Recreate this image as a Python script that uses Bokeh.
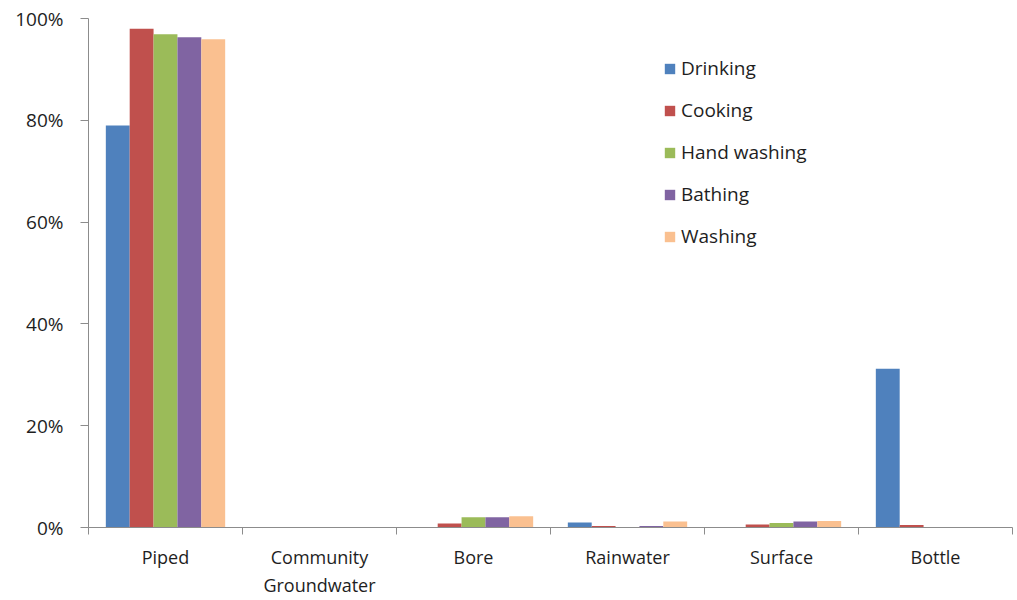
from bokeh.plotting import figure
from bokeh.models import (ColumnDataSource, Range1d, LinearAxis, FixedTicker,
                          NumeralTickFormatter, Legend, LegendItem)
from bokeh.transform import dodge
from bokeh.embed import file_html
from bokeh.resources import INLINE

# Water source by household use (share of households)
sources = ["Piped", "Community Groundwater", "Bore", "Rainwater", "Surface", "Bottle"]
source_labels = ["Piped", "Community\nGroundwater", "Bore", "Rainwater", "Surface", "Bottle"]

drinking = [0.790, 0.0, 0.001, 0.010, 0.001, 0.312]
cooking = [0.980, 0.0, 0.008, 0.003, 0.006, 0.005]
hand_washing = [0.969, 0.0, 0.020, 0.001, 0.009, 0.0]
bathing = [0.963, 0.0, 0.020, 0.003, 0.012, 0.0]
washing = [0.959, 0.0, 0.022, 0.012, 0.013, 0.0]

series_names = ["Drinking", "Cooking", "Hand washing", "Bathing", "Washing"]
series_values = [drinking, cooking, hand_washing, bathing, washing]
colors = ["#4F81BD", "#C0504D", "#9BBB59", "#8064A2", "#FAC090"]

FONT = "Open Sans"
TEXT_COLOR = "#1e1e1e"
AXIS_GRAY = "#8c8c8c"

pos = [i + 0.5 for i in range(len(sources))]
data = {"x": pos}
for name, vals in zip(series_names, series_values):
    data[name] = vals
src = ColumnDataSource(data)

p = figure(width=1017, height=600, output_backend="svg", toolbar_location=None,
           x_range=Range1d(0, len(sources)), y_range=Range1d(0, 1),
           x_axis_type=None, y_axis_type=None,
           min_border_left=88, min_border_right=5, min_border_top=18,
           min_border_bottom=72)
p.outline_line_color = None
p.xgrid.visible = False
p.ygrid.visible = False

bar_w = 0.155
offsets = [-2 * bar_w, -bar_w, 0.0, bar_w, 2 * bar_w]
renderers = []
for name, col, off in zip(series_names, colors, offsets):
    r = p.vbar(x=dodge("x", off), top=name, width=bar_w, source=src,
               fill_color=col, line_color=None)
    renderers.append(r)

# y axis
yax = LinearAxis(ticker=FixedTicker(ticks=[0, 0.2, 0.4, 0.6, 0.8, 1.0]),
                 formatter=NumeralTickFormatter(format="0%"))
yax.axis_line_color = AXIS_GRAY
yax.major_tick_line_color = AXIS_GRAY
yax.major_tick_in = 0
yax.major_tick_out = 8
yax.minor_tick_line_color = None
yax.major_label_standoff = 17
yax.major_label_text_font = FONT
yax.major_label_text_font_size = "19px"
yax.major_label_text_color = TEXT_COLOR
p.add_layout(yax, "left")

# x axis: labels centred on categories, tick marks on category boundaries
xax = LinearAxis(ticker=FixedTicker(ticks=pos, minor_ticks=list(range(len(sources) + 1))))
xax.major_label_overrides = {v: lab for v, lab in zip(pos, source_labels)}
xax.axis_line_color = AXIS_GRAY
xax.major_tick_line_color = None
xax.major_tick_in = 0
xax.major_tick_out = 0
xax.minor_tick_line_color = AXIS_GRAY
xax.minor_tick_in = 0
xax.minor_tick_out = 7
xax.major_label_standoff = 10
xax.major_label_text_font = FONT
xax.major_label_text_font_size = "18px"
xax.major_label_text_color = TEXT_COLOR
p.add_layout(xax, "below")

legend = Legend(items=[LegendItem(label=n, renderers=[r]) for n, r in zip(series_names, renderers)],
                location=(575, 278))
legend.border_line_color = None
legend.background_fill_alpha = 0
legend.padding = 0
legend.margin = 0
legend.spacing = 16
legend.glyph_width = 13
legend.glyph_height = 13
legend.label_height = 26
legend.label_standoff = 5
legend.label_text_font = FONT
legend.label_text_font_size = "19px"
legend.label_text_color = TEXT_COLOR
p.add_layout(legend, "center")

open("out.html", "w").write(file_html(p, INLINE))
